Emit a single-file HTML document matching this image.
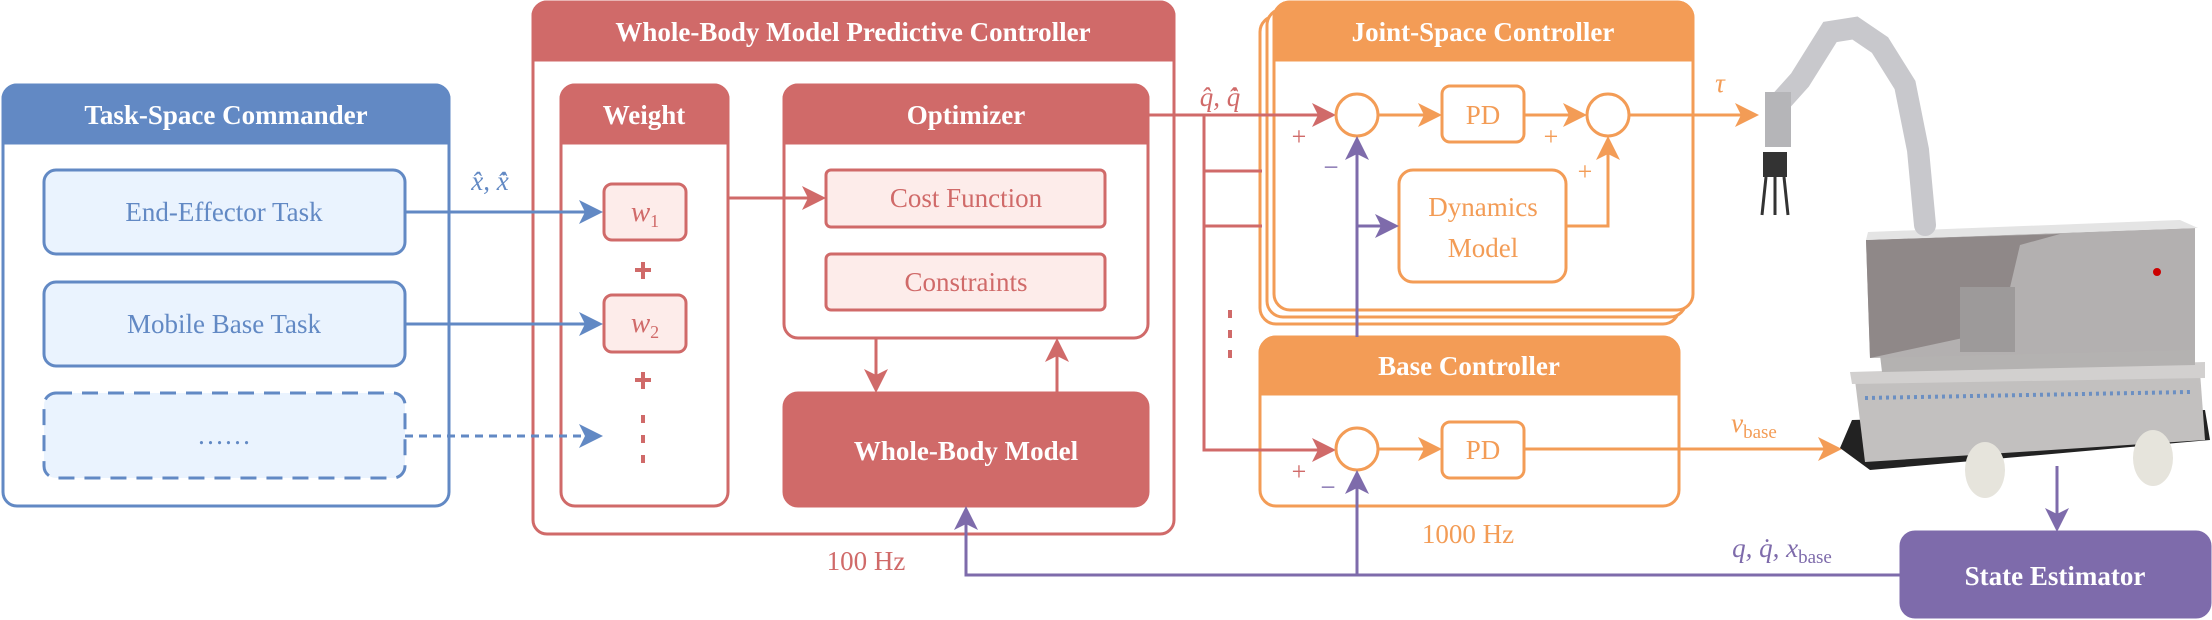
<!DOCTYPE html>
<html><head><meta charset="utf-8"><style>
html,body{margin:0;padding:0;background:#fff}
svg{display:block}
svg text{font-family:"Liberation Serif","DejaVu Serif",serif}
</style></head><body>
<svg width="2212" height="620" viewBox="0 0 2212 620" xmlns="http://www.w3.org/2000/svg" font-family="Liberation Serif, DejaVu Serif, serif">
<g stroke-width="3" fill="none">
<rect x="3" y="85" width="446" height="421" rx="14" fill="#fff" stroke="#6289c4"/>
<path d="M3,143 V99 a14,14 0 0 1 14,-14 H435 a14,14 0 0 1 14,14 V143z" fill="#6289c4" stroke="#6289c4"/>
<rect x="44" y="170" width="361" height="84" rx="12" fill="#eaf3fe" stroke="#6289c4"/>
<rect x="44" y="282" width="361" height="84" rx="12" fill="#eaf3fe" stroke="#6289c4"/>
<rect x="44" y="393" width="361" height="85" rx="12" fill="#eaf3fe" stroke="#6289c4" stroke-dasharray="16,10"/>
<rect x="533" y="2" width="641" height="532" rx="14" fill="#fff" stroke="#d06a69"/>
<path d="M533,60 V16 a14,14 0 0 1 14,-14 H1160 a14,14 0 0 1 14,14 V60z" fill="#d06a69" stroke="#d06a69"/>
<rect x="561" y="85" width="167" height="421" rx="14" fill="#fff" stroke="#d06a69"/>
<path d="M561,143 V99 a14,14 0 0 1 14,-14 H714 a14,14 0 0 1 14,14 V143z" fill="#d06a69" stroke="#d06a69"/>
<rect x="604" y="184" width="82" height="56" rx="8" fill="#fdecea" stroke="#d06a69"/>
<rect x="604" y="295" width="82" height="57" rx="8" fill="#fdecea" stroke="#d06a69"/>
<rect x="784" y="85" width="364" height="253" rx="14" fill="#fff" stroke="#d06a69"/>
<path d="M784,143 V99 a14,14 0 0 1 14,-14 H1134 a14,14 0 0 1 14,14 V143z" fill="#d06a69" stroke="#d06a69"/>
<rect x="826" y="170" width="279" height="57" rx="5" fill="#fdecea" stroke="#d06a69"/>
<rect x="826" y="254" width="279" height="56" rx="5" fill="#fdecea" stroke="#d06a69"/>
<rect x="784" y="393" width="364" height="113" rx="14" fill="#d06a69" stroke="#d06a69"/>
<rect x="1260" y="16" width="419" height="308" rx="16" fill="#fff" stroke="#f39c56"/>
<rect x="1267" y="9" width="419" height="308" rx="16" fill="#fff" stroke="#f39c56"/>
<rect x="1274" y="2" width="419" height="308" rx="16" fill="#fff" stroke="#f39c56"/>
<path d="M1274,60 V18 a16,16 0 0 1 16,-16 H1677 a16,16 0 0 1 16,16 V60z" fill="#f39c56" stroke="#f39c56"/>
<rect x="1260" y="337" width="419" height="169" rx="16" fill="#fff" stroke="#f39c56"/>
<path d="M1260,394 V353 a16,16 0 0 1 16,-16 H1663 a16,16 0 0 1 16,16 V394z" fill="#f39c56" stroke="#f39c56"/>
<rect x="1901" y="532" width="309" height="85" rx="14" fill="#7e6bab" stroke="#7e6bab"/>
</g>

<g stroke="#6289c4" stroke-width="3" fill="none">
<line x1="405" y1="212" x2="590" y2="212"/>
<line x1="405" y1="324" x2="590" y2="324"/>
<line x1="405" y1="436" x2="590" y2="436" stroke-dasharray="8,6"/>
</g>
<g fill="#6289c4">
<path d="M603,212 l-24,-12 l6,12 l-6,12z"/><path d="M603,324 l-24,-12 l6,12 l-6,12z"/><path d="M603,436 l-24,-12 l6,12 l-6,12z"/>
</g>

<g stroke="#d06a69" stroke-width="3" fill="none">
<line x1="728" y1="198" x2="815" y2="198"/>
<line x1="876" y1="338" x2="876" y2="382"/>
<line x1="1057" y1="350" x2="1057" y2="393"/>
<line x1="1148" y1="115" x2="1322" y2="115"/>
<polyline points="1204,115 1204,450 1322,450"/>
<line x1="1204" y1="171" x2="1262" y2="171"/>
<line x1="1204" y1="226" x2="1262" y2="226"/>
</g>
<g fill="#d06a69">
<path d="M826,198 l-24,-12 l6,12 l-6,12z"/>
<path d="M876,393 l-12,-24 l12,6 l12,-6z"/>
<path d="M1057,338 l-12,24 l12,-6 l12,6z"/>
<path d="M1336,115 l-24,-12 l6,12 l-6,12z"/>
<path d="M1336,450 l-24,-12 l6,12 l-6,12z"/>
<rect x="641" y="262" width="4" height="17"/><rect x="635" y="268" width="16" height="4"/>
<rect x="641" y="372" width="4" height="17"/><rect x="635" y="378" width="16" height="4"/>
<rect x="641" y="415" width="4" height="8"/><rect x="641" y="435" width="4" height="8"/><rect x="641" y="455" width="4" height="8"/>
<rect x="1228" y="310" width="4" height="8"/><rect x="1228" y="330" width="4" height="8"/><rect x="1228" y="350" width="4" height="8"/>
</g>

<g stroke="#f39c56" stroke-width="3" fill="none">
<circle cx="1357" cy="115" r="21" fill="#fff"/>
<circle cx="1608" cy="115" r="21" fill="#fff"/>
<circle cx="1357" cy="449" r="21" fill="#fff"/>
<rect x="1442" y="86" width="82" height="56" rx="8" fill="#fff"/>
<rect x="1442" y="422" width="82" height="56" rx="8" fill="#fff"/>
<rect x="1399" y="170" width="167" height="112" rx="14" fill="#fff"/>
<line x1="1378" y1="115" x2="1430" y2="115"/>
<line x1="1524" y1="115" x2="1575" y2="115"/>
<line x1="1629" y1="115" x2="1745" y2="115"/>
<polyline points="1566,226 1608,226 1608,148"/>
<line x1="1378" y1="449" x2="1430" y2="449"/>
<line x1="1524" y1="449" x2="1828" y2="449"/>
</g>
<g fill="#f39c56">
<path d="M1442,115 l-24,-12 l6,12 l-6,12z"/>
<path d="M1587,115 l-24,-12 l6,12 l-6,12z"/>
<path d="M1759,115 l-24,-12 l6,12 l-6,12z"/>
<path d="M1608,136 l-12,24 l12,-6 l12,6z"/>
<path d="M1442,449 l-24,-12 l6,12 l-6,12z"/>
<path d="M1842,449 l-24,-12 l6,12 l-6,12z"/>
</g>

<g stroke="#7e6bab" stroke-width="3" fill="none">
<polyline points="1901,575 966,575 966,520"/>
<line x1="1357" y1="575" x2="1357" y2="484"/>
<line x1="1357" y1="337" x2="1357" y2="150"/>
<line x1="1357" y1="226" x2="1386" y2="226"/>
<line x1="2057" y1="466" x2="2057" y2="520"/>
</g>
<g fill="#7e6bab">
<path d="M966,506 l-12,24 l12,-6 l12,6z"/>
<path d="M1357,470 l-12,24 l12,-6 l12,6z"/>
<path d="M1357,136 l-12,24 l12,-6 l12,6z"/>
<path d="M1399,226 l-24,-12 l6,12 l-6,12z"/>
<path d="M2057,532 l-12,-24 l12,6 l12,-6z"/>
</g>

<!-- robot approximation -->
<g>
<path d="M1840,448 L1852,420 L2205,410 L2210,440 L1870,470z" fill="#222"/>
<path d="M1855,380 L2200,372 L2205,440 L1865,462z" fill="#c2c0bf"/>
<path d="M1865,398 L2190,392" stroke="#6b8fc2" stroke-width="4" stroke-dasharray="3,4"/>
<path d="M1850,372 L2205,362 L2205,378 L1852,384z" fill="#d2d0cf"/>
<path d="M1880,355 L2195,345 L2195,365 L1882,372z" fill="#b4b2b1"/>
<path d="M1866,240 L2195,228 L2195,350 L1870,358z" fill="#b3b0b0"/>
<path d="M1866,240 L2060,234 L2020,245 L2000,330 L1870,358z" fill="#8f8888"/>
<path d="M1868,232 L2180,220 L2198,228 L1866,240z" fill="#e4e4e4"/>
<rect x="1960" y="287" width="55" height="65" fill="#9d9a9a"/>
<circle cx="2157" cy="272" r="4" fill="#c00"/>
<ellipse cx="1985" cy="470" rx="20" ry="28" fill="#e6e4dc"/>
<ellipse cx="2153" cy="458" rx="20" ry="28" fill="#e6e4dc"/>
<path d="M1925,225 L1918,150 L1905,85 L1880,45 L1855,28 L1830,32 L1800,80 L1782,100" stroke="#c8c8cc" stroke-width="22" fill="none" stroke-linecap="round"/>
<rect x="1765" y="92" width="26" height="55" fill="#b5b5b8"/>
<rect x="1763" y="152" width="24" height="25" fill="#333"/>
<path d="M1766,177 L1762,215 M1775,177 L1775,215 M1784,177 L1788,215" stroke="#333" stroke-width="3"/>
</g>

<g font-weight="bold" fill="#fff" text-anchor="middle" font-size="27">
<text x="226" y="124">Task-Space Commander</text>
<text x="853" y="41">Whole-Body Model Predictive Controller</text>
<text x="644" y="124">Weight</text>
<text x="966" y="124">Optimizer</text>
<text x="966" y="460">Whole-Body Model</text>
<text x="1483" y="41">Joint-Space Controller</text>
<text x="1469" y="375">Base Controller</text>
<text x="2055" y="585">State Estimator</text>
</g>
<g fill="#6289c4" text-anchor="middle" font-size="27">
<text x="224" y="221">End-Effector Task</text>
<text x="224" y="333">Mobile Base Task</text>
<text x="224" y="444">……</text>
<text x="490" y="190" font-style="italic">x̂, x̂̇</text>
</g>
<g fill="#d06a69" text-anchor="middle" font-size="27">
<text x="966" y="207">Cost Function</text>
<text x="966" y="291">Constraints</text>
<text x="645" y="221" font-style="italic" font-size="29">w<tspan font-size="18" font-style="normal" dy="6">1</tspan></text>
<text x="645" y="332" font-style="italic" font-size="29">w<tspan font-size="18" font-style="normal" dy="6">2</tspan></text>
<text x="866" y="570">100 Hz</text>
<text x="1220" y="106" font-style="italic">q̂, q̂̇</text>
<text x="1299" y="145" font-size="26">+</text>
<text x="1299" y="480" font-size="26">+</text>
</g>
<g fill="#f39c56" text-anchor="middle" font-size="27">
<text x="1483" y="124">PD</text>
<text x="1483" y="459">PD</text>
<text x="1483" y="216">Dynamics</text>
<text x="1483" y="257">Model</text>
<text x="1468" y="543">1000 Hz</text>
<text x="1720" y="92" font-style="italic">τ</text>
<text x="1754" y="432"><tspan font-style="italic">v</tspan><tspan font-size="19" dy="6">base</tspan></text>
<text x="1551" y="145" font-size="26">+</text>
<text x="1585" y="180" font-size="26">+</text>
</g>
<g fill="#7e6bab" text-anchor="middle" font-size="27">
<text x="1331" y="176">−</text>
<text x="1328" y="496">−</text>
<text x="1782" y="557"><tspan font-style="italic">q, q̇, x</tspan><tspan font-size="19" dy="6">base</tspan></text>
</g>
</svg>
</body></html>
